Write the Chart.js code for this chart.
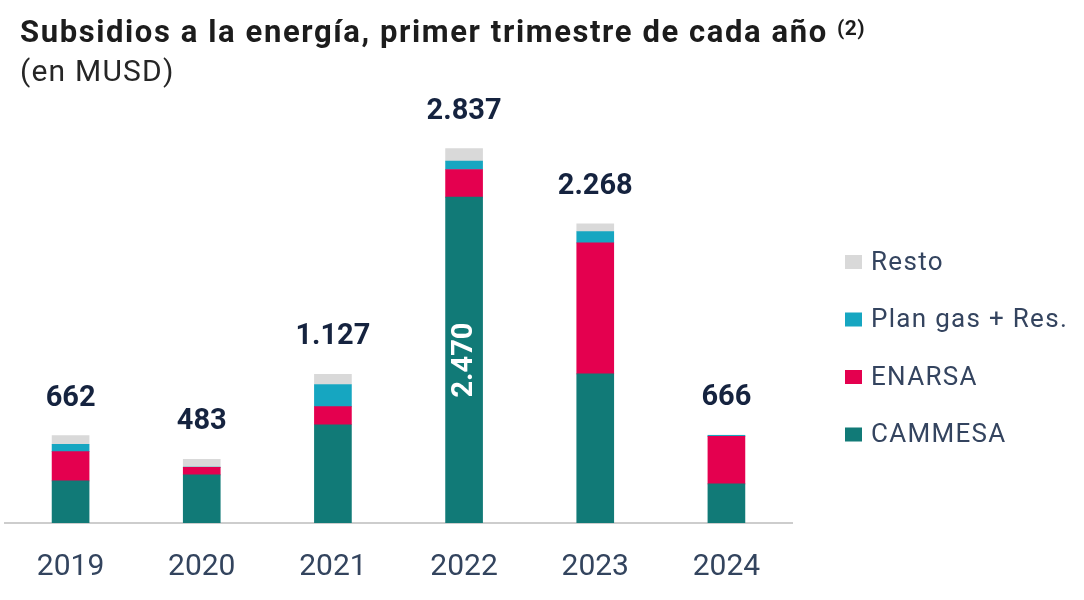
<!DOCTYPE html>
<html>
<head>
<meta charset="utf-8">
<script src="https://cdn.jsdelivr.net/npm/chart.js@4.4.1/dist/chart.umd.min.js"></script>
<style>
  html, body { margin: 0; padding: 0; background: #ffffff; }
  #wrap { position: relative; width: 1084px; height: 600px; overflow: hidden; }
  #title { position: absolute; left: 20px; top: 14px; font-family: Roboto, "Open Sans", sans-serif; font-weight: 700; font-size: 31px; letter-spacing: 1.6px; line-height: 36px; color: #1c1c1c; white-space: nowrap; }
  #title sup { font-size: 21px; font-weight: 700; letter-spacing: 0.5px; position: relative; top: 4px; vertical-align: top; line-height: 21px; margin-left: 9px; }
  #subtitle { position: absolute; left: 20px; top: 53px; font-family: Roboto, "Open Sans", sans-serif; font-weight: 400; font-size: 30px; letter-spacing: 1.2px; line-height: 36px; color: #262626; white-space: nowrap; }
  canvas { position: absolute; left: 0; top: 0; }
</style>
</head>
<body>
<div id="wrap">
  <canvas id="c" width="1084" height="600"></canvas>
  <div id="title">Subsidios a la energía, primer trimestre de cada año<sup>(2)</sup></div>
  <div id="subtitle">(en MUSD)</div>
</div>
<script>
// ---- Data ----
const years = ['2019', '2020', '2021', '2022', '2023', '2024'];
const cammesa = [319, 365, 745, 2470, 1130, 297];
const enarsa  = [222, 57, 137, 209, 993, 359];
const planGas = [56, 2, 168, 64, 86, 8];
const resto   = [65, 59, 77, 94, 59, 2];
const seriesNames = ['CAMMESA', 'ENARSA', 'Plan gas + Res.', 'Resto'];
const insideLabelYears = ['2022']; // CAMMESA value shown inside the bar

// ---- Styles ----
const colors = ['#117a77', '#e4004f', '#16a6c1', '#d9d9d9'];

function fmt(n) {
  return String(n).replace(/\B(?=(\d{3})+(?!\d))/g, '.');
}

const totalsPlugin = {
  id: 'totals',
  afterDatasetsDraw(chart) {
    const ctx = chart.ctx;
    const n = chart.data.datasets.length;
    ctx.save();
    ctx.font = '700 29px Roboto, "Open Sans", sans-serif';
    ctx.fillStyle = '#15233f';
    ctx.textAlign = 'center';
    ctx.textBaseline = 'alphabetic';
    chart.data.labels.forEach((lab, i) => {
      let sum = 0;
      chart.data.datasets.forEach(ds => { sum += ds.data[i]; });
      const topEl = chart.getDatasetMeta(n - 1).data[i];
      const y = chart.scales.y.getPixelForValue(sum);
      ctx.fillText(fmt(sum), topEl.x, y - 30);
    });
    const meta0 = chart.getDatasetMeta(0);
    chart.data.labels.forEach((lab, i) => {
      if (!insideLabelYears.includes(lab)) return;
      const el = meta0.data[i];
      const cy = (el.y + el.base) / 2;
      ctx.save();
      ctx.translate(el.x, cy);
      ctx.rotate(-Math.PI / 2);
      ctx.font = '700 29px Roboto, "Open Sans", sans-serif';
      ctx.fillStyle = '#ffffff';
      ctx.textAlign = 'center';
      ctx.textBaseline = 'middle';
      ctx.fillText(fmt(chart.data.datasets[0].data[i]), 0, 1);
      ctx.restore();
    });
    ctx.restore();
  }
};

const legendPlugin = {
  id: 'sideLegend',
  afterDraw(chart) {
    const ctx = chart.ctx;
    const ds = chart.data.datasets.slice().reverse();
    const x0 = 845, y0 = 262, pitch = 57.5;
    ctx.save();
    ctx.font = '400 26px Roboto, "Open Sans", sans-serif';
    if ('letterSpacing' in ctx) ctx.letterSpacing = '1.3px';
    ctx.textBaseline = 'middle';
    ctx.textAlign = 'left';
    ds.forEach((d, k) => {
      const y = y0 + k * pitch;
      ctx.fillStyle = d.backgroundColor;
      ctx.fillRect(x0, y - 7, 17, 14);
      ctx.fillStyle = '#34445f';
      ctx.fillText(d.label, x0 + 26, y + 1);
    });
    ctx.restore();
  }
};

const seriesData = [cammesa, enarsa, planGas, resto];

new Chart(document.getElementById('c'), {
  type: 'bar',
  data: {
    labels: years,
    datasets: seriesNames.map((name, k) => ({
      label: name,
      data: seriesData[k],
      backgroundColor: colors[k],
      borderWidth: 0,
      barThickness: 37
    }))
  },
  options: {
    responsive: false,
    animation: false,
    devicePixelRatio: 1,
    layout: { padding: { top: 114, left: 5, right: 292, bottom: -11 } },
    plugins: {
      legend: { display: false },
      tooltip: { enabled: false },
      title: { display: false }
    },
    scales: {
      x: {
        stacked: true,
        grid: { display: false, drawTicks: false },
        border: { display: true, color: '#cdcdcd', width: 2 },
        ticks: {
          color: '#33445e',
          padding: 26,
          font: { family: 'Roboto, "Open Sans", sans-serif', size: 30, weight: 400, lineHeight: 1.2 }
        }
      },
      y: {
        stacked: true,
        display: false,
        min: 0,
        max: 3100
      }
    }
  },
  plugins: [totalsPlugin, legendPlugin]
});
</script>
</body>
</html>
